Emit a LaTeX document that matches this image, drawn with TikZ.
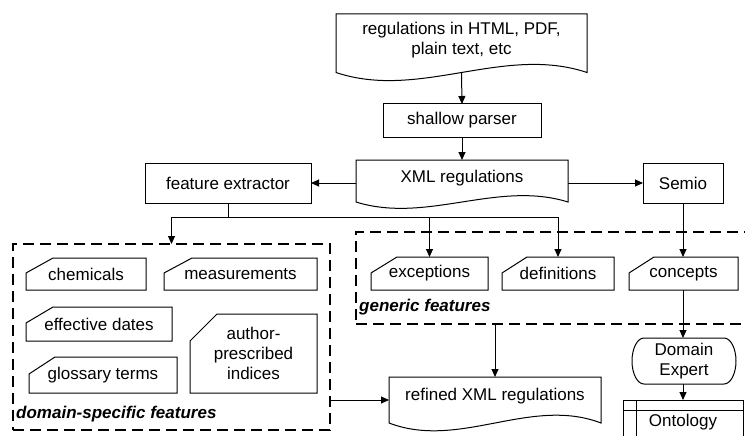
\documentclass[tikz,border=0pt]{standalone}
\usepackage{fontspec}
\setmainfont{Liberation Sans}
\usetikzlibrary{arrows.meta,calc}
\tikzset{
  base/.style={inner sep=0pt, outer sep=0pt, align=center, font=\fontsize{17}{20}\selectfont},
  boxnode/.style={base, draw, line width=1pt},
  plain/.style={base},
  shapeline/.style={line width=1pt},
  conn/.style={line width=1pt},
  arr/.style={line width=1pt, -{Triangle[length=8pt,width=7pt]}},
  groupbox/.style={inner sep=0pt, outer sep=0pt, draw, line width=2pt, dash pattern=on 11pt off 6pt},
  grouplabel/.style={inner sep=0pt, anchor=west, font=\fontsize{17}{20}\selectfont\bfseries\itshape},
}
% document outline: name, drop from node bottom to wave baseline, wave depth
\newcommand\mydocoutline[3]{%
  \draw[shapeline] (#1.north west) -- ($(#1.south west)+(0,#2)$)
    .. controls ($(#1.south west)!0.333!(#1.south east)+(0,#2+#3)$)
    and ($(#1.south west)!0.667!(#1.south east)+(0,#2-#3)$)
    .. ($(#1.south east)+(0,#2)$) -- (#1.north east) -- cycle;}
% card outline: name, cut width, cut height
\newcommand\mycardoutline[3]{%
  \draw[shapeline] ($(#1.north west)+(#2,0)$) -- (#1.north east) -- (#1.south east)
    -- (#1.south west) -- ($(#1.north west)+(0,#3)$) -- cycle;}
\begin{document}
\begin{tikzpicture}[x=1pt,y=-1pt]
\fill[white] (0,0) rectangle (745,436);
\clip (0,0) rectangle (745,436);

% dashed groups
\node[groupbox, minimum width=317pt, minimum height=186pt] (dom) at (171.5,337) {};
\node[groupbox, minimum width=434pt, minimum height=92pt] (gen) at (573,278) {};
\node[grouplabel] (domlbl) at (16,414) {domain-specific features};
\node[grouplabel] (genlbl) at (359,307) {generic features};

% documents
\node[plain, minimum width=251pt, minimum height=52pt] (src) at (461.5,40) {regulations in HTML, PDF,\\plain text, etc};
\mydocoutline{src}{6.5}{28}
\node[plain, minimum width=212pt, minimum height=36pt] (xml) at (462,178) {XML regulations};
\mydocoutline{xml}{6}{22}
\node[plain, minimum width=212pt, minimum height=38pt] (ref) at (495,396) {refined XML regulations};
\mydocoutline{ref}{8}{27}

% processes
\node[boxnode, minimum width=158pt, minimum height=33pt] (sp) at (462,120.5) {shallow parser};
\node[boxnode, minimum width=166pt, minimum height=40pt] (fe) at (228,183) {feature extractor};
\node[boxnode, minimum width=80pt, minimum height=40pt] (semio) at (683,183) {Semio};

% cards
\node[plain, minimum width=120pt, minimum height=32pt] (chem) at (86,274) {chemicals};
\mycardoutline{chem}{27}{15}
\node[plain, minimum width=153pt, minimum height=32pt] (meas) at (240.5,274) {measurements};
\mycardoutline{meas}{28}{15}
\node[plain, minimum width=146pt, minimum height=34pt] (eff) at (99,324) {effective dates};
\mycardoutline{eff}{27}{16}
\node[plain, minimum width=148pt, minimum height=36pt] (gloss) at (103,375) {glossary terms};
\mycardoutline{gloss}{26}{17}
\node[plain, minimum width=127pt, minimum height=79pt] (auth) at (253.5,353.5) {author-\\prescribed\\indices};
\mycardoutline{auth}{27}{27}
\node[plain, minimum width=117pt, minimum height=33pt] (exc) at (429.5,273.5) {exceptions};
\mycardoutline{exc}{26}{16}
\node[plain, minimum width=112pt, minimum height=33pt] (def) at (558,273.5) {definitions};
\mycardoutline{def}{25}{16}
\node[plain, minimum width=109pt, minimum height=33pt] (conc) at (683.5,273.5) {concepts};
\mycardoutline{conc}{25}{16}

% domain expert (terminator)
\node[plain, minimum width=104pt, minimum height=46pt] (de) at (684,361) {Domain\\Expert};
\draw[shapeline] ($(de.north west)+(12,0)$) -- ($(de.north east)+(-12,0)$)
  arc[start angle=90, end angle=-90, x radius=12pt, y radius=23pt]
  -- ($(de.south west)+(12,0)$)
  arc[start angle=270, end angle=90, x radius=12pt, y radius=23pt] -- cycle;

% ontology
\node[boxnode, minimum width=120pt, minimum height=44pt] (onto) at (683,422) {Ontology};
\draw[shapeline] ($(onto.north west)+(0,10)$) -- ($(onto.north east)+(0,10)$);
\draw[shapeline] ($(onto.north west)+(13,0)$) -- ($(onto.south west)+(13,0)$);
\draw[shapeline] (onto.south west) -- ++(0,30);
\draw[shapeline] (onto.south east) -- ++(0,30);

% connectors
\draw[arr] ($(src.south)+(0,6.5)$) -- (sp.north);
\draw[arr] (sp.south) -- (xml.north);
\draw[arr] (fe.east -| xml.west) -- (fe.east);
\draw[arr] (semio.west -| xml.east) -- (semio.west);
\coordinate (j) at (228,217);
\draw[conn] (fe.south) -- (j);
\draw[arr] (j) -| (dom.north);
\draw[arr] (j) -| (exc.north);
\draw[arr] (j) -| (def.north);
\draw[arr] (semio.south) -- (semio.south |- conc.north);
\draw[arr] (conc.south -| semio.south) -- (semio.south |- de.north);
\draw[arr] (de.south -| semio.south) -- (semio.south |- onto.north);
\draw[arr] (ref.north |- gen.south) -- (ref.north);
\coordinate (refin) at ([yshift=-4pt]ref.west);
\draw[arr] (dom.east |- refin) -- (refin);
\end{tikzpicture}
\end{document}
